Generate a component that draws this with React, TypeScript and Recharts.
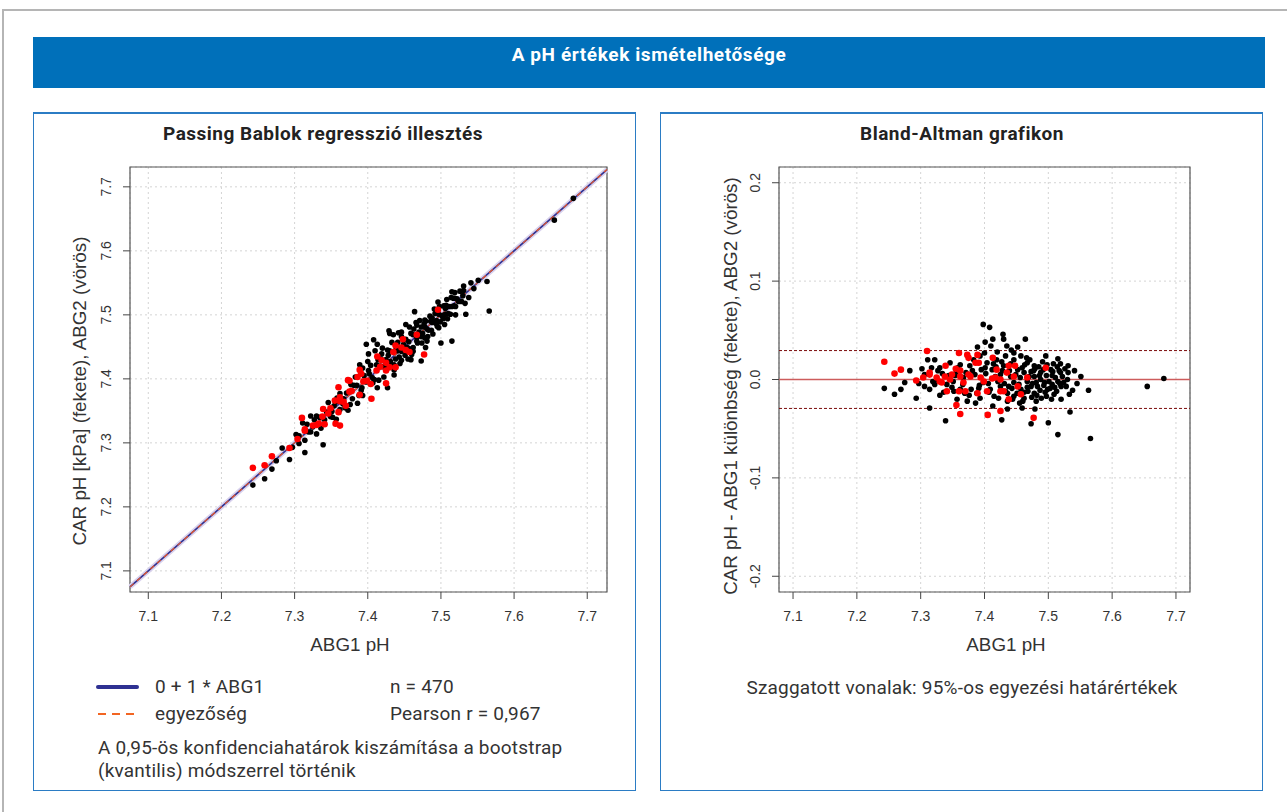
import React from "react";
import {
  ScatterChart,
  Scatter,
  XAxis,
  YAxis,
  CartesianGrid,
  ReferenceLine,
  ReferenceArea,
} from "recharts";

// ABG1 pH (x) and difference to ABG1 (CAR - ABG1 for black, ABG2 - ABG1 for red)
const blackAbg1 = [
  7.398, 7.408, 7.429, 7.401, 7.413, 7.430, 7.435, 7.464, 7.410, 7.283,
  7.275, 7.269, 7.259, 7.243, 7.293, 7.314, 7.339, 7.330, 7.357, 7.373,
  7.413, 7.427, 7.436, 7.459, 7.473, 7.479, 7.500, 7.515, 7.566, 7.534,
  7.520, 7.538, 7.563, 7.551, 7.531, 7.519, 7.515, 7.496, 7.508, 7.530,
  7.519, 7.520, 7.509, 7.497, 7.481, 7.455, 7.436, 7.446, 7.457, 7.467,
  7.478, 7.488, 7.478, 7.467, 7.483, 7.494, 7.499, 7.457, 7.446, 7.441,
  7.452, 7.462, 7.473, 7.467, 7.478, 7.462, 7.446, 7.436, 7.425, 7.430,
  7.419, 7.404, 7.393, 7.383, 7.377, 7.362, 7.356, 7.346, 7.330, 7.322,
  7.311, 7.317, 7.306, 7.306, 7.314, 7.322, 7.341, 7.351, 7.367, 7.379,
  7.388, 7.398, 7.409, 7.415, 7.393, 7.386, 7.362, 7.349, 7.325, 7.417,
  7.412, 7.425, 7.438, 7.433, 7.446, 7.531, 7.528, 7.506, 7.506, 7.515,
  7.488, 7.473, 7.655, 7.681, 7.385, 7.392, 7.401, 7.406, 7.414, 7.421,
  7.428, 7.433, 7.441, 7.444, 7.449, 7.454, 7.459, 7.462, 7.466, 7.470,
  7.474, 7.477, 7.481, 7.485, 7.487, 7.491, 7.493, 7.497, 7.503, 7.504,
  7.511, 7.513, 7.517, 7.524, 7.376, 7.371, 7.366, 7.358, 7.352, 7.344,
  7.336, 7.327, 7.319, 7.302, 7.297, 7.402, 7.407, 7.418, 7.422, 7.427,
  7.431, 7.439, 7.443, 7.448, 7.451, 7.456, 7.460, 7.463, 7.468, 7.471,
  7.475, 7.479, 7.482, 7.486, 7.489, 7.492, 7.495, 7.498, 7.501, 7.505,
  7.507, 7.510, 7.514, 7.518, 7.522, 7.526, 7.533, 7.541, 7.545, 7.395,
  7.391, 7.381, 7.369, 7.354, 7.334, 7.442, 7.452, 7.420, 7.400, 7.389,
];
const blackDiff = [
  0.056, 0.053, 0.046, 0.038, 0.041, 0.041, 0.034, 0.041, 0.034, 0.009,
  -0.003, -0.010, -0.015, -0.009, -0.019, -0.029, -0.042, -0.016, -0.020, -0.022,
  -0.027, -0.041, -0.030, -0.029, -0.045, -0.030, -0.044, -0.056, -0.060, -0.033,
  -0.020, -0.011, -0.011, 0.003, 0.014, 0.016, 0.021, 0.024, 0.016, 0.000,
  0.007, -0.007, -0.015, -0.017, -0.022, -0.024, -0.022, 0.020, 0.024, 0.017,
  0.014, 0.007, 0.003, -0.002, -0.007, -0.003, -0.010, -0.010, -0.003, 0.003,
  0.010, 0.007, 0.008, -0.008, -0.014, -0.019, -0.017, -0.014, -0.007, 0.014,
  0.020, 0.017, 0.024, 0.020, 0.014, 0.015, 0.008, 0.017, 0.012, 0.020,
  0.020, 0.012, 0.005, -0.007, -0.010, -0.005, -0.005, -0.002, 0.002, -0.010,
  -0.014, -0.003, -0.010, -0.017, -0.019, -0.024, -0.010, -0.008, 0.000, 0.003,
  0.010, 0.005, -0.007, 0.024, 0.027, 0.007, -0.007, -0.005, 0.004, -0.002,
  0.000, -0.007, -0.007, 0.001, 0.005, -0.006, 0.012, -0.004, 0.016, -0.002,
  0.009, -0.012, 0.016, -0.020, 0.005, -0.005, 0.012, -0.013, 0.022, 0.003,
  -0.018, 0.009, -0.003, 0.013, -0.011, 0.018, -0.006, 0.004, -0.009, 0.010,
  0.002, -0.012, 0.009, -0.003, -0.016, 0.007, -0.005, 0.012, -0.012, 0.004,
  -0.013, 0.009, -0.002, 0.011, -0.004, 0.006, -0.013, 0.013, -0.019, 0.018,
  -0.004, 0.009, -0.009, 0.014, -0.014, 0.002, -0.022, 0.015, -0.012, 0.020,
  -0.004, 0.011, -0.016, 0.004, -0.019, 0.010, -0.013, 0.015, -0.002, -0.020,
  0.008, -0.008, 0.013, -0.004, 0.003, 0.011, -0.015, 0.009, -0.004, 0.010,
  -0.009, 0.009, -0.014, 0.004, 0.006, 0.030, 0.033, 0.028, 0.027, 0.033,
];
const redAbg1 = [
  7.243, 7.259, 7.269, 7.293, 7.304, 7.310, 7.314, 7.325, 7.333, 7.339,
  7.341, 7.349, 7.355, 7.360, 7.362, 7.356, 7.362, 7.360, 7.370, 7.373,
  7.375, 7.378, 7.386, 7.389, 7.391, 7.389, 7.394, 7.399, 7.404, 7.405,
  7.413, 7.417, 7.419, 7.425, 7.425, 7.430, 7.438, 7.438, 7.425, 7.446,
  7.448, 7.452, 7.457, 7.467, 7.477, 7.496, 7.435, 7.412, 7.367, 7.346,
  7.338, 7.330, 7.362, 7.375, 7.314,
];
const redDiff = [
  0.018, 0.006, 0.010, -0.001, 0.002, 0.029, 0.007, 0.002, -0.003, 0.014,
  -0.012, 0.005, 0.011, 0.027, 0.003, -0.026, -0.035, -0.012, -0.012, 0.025,
  0.022, 0.003, 0.017, 0.025, 0.017, -0.014, 0.002, -0.002, -0.012, -0.036,
  0.022, 0.002, 0.010, 0.000, -0.012, -0.012, 0.014, -0.020, -0.032, 0.003,
  0.014, -0.007, -0.015, 0.002, -0.039, 0.012, 0.007, 0.001, -0.003, 0.000,
  0.003, -0.002, 0.009, 0.005, 0.005,
];

const xTicks = [7.1, 7.2, 7.3, 7.4, 7.5, 7.6, 7.7];
const pbYTicks = [7.1, 7.2, 7.3, 7.4, 7.5, 7.6, 7.7];
const baYTicks = [-0.2, -0.1, 0, 0.1, 0.2];
const pbXDomain = [7.075, 7.727];
const pbYDomain = [7.067, 7.731];
const baXDomain = [7.078, 7.722];
const baYDomain = [-0.216, 0.216];

const regIntercept = 0;
const regSlope = 1;
const meanDiff = 0;
const loaUpper = 0.0294;
const loaLower = -0.0294;
const nPairs = 470;
const pearsonR = "0,967";

const pbBlack = blackAbg1.map((x, i) => ({ x, y: x + blackDiff[i] }));
const pbRed = redAbg1.map((x, i) => ({ x, y: x + redDiff[i] }));
const baBlack = blackAbg1.map((x, i) => ({ x, y: blackDiff[i] }));
const baRed = redAbg1.map((x, i) => ({ x, y: redDiff[i] }));

const AXIS_FONT = "'Liberation Sans', Arial, sans-serif";
const COND_FONT = "Roboto, 'Noto Sans', sans-serif";

const BlackDot = (p: any) => <circle cx={p.cx} cy={p.cy} r={2.8} fill="#000" />;
const RedDot = (p: any) => <circle cx={p.cx} cy={p.cy} r={3.3} fill="#ff0000" />;

function RotTick(props: any) {
  const { x, y, payload } = props;
  return (
    <text
      x={x}
      y={y}
      transform={`rotate(-90 ${x} ${y})`}
      textAnchor="middle"
      fontSize={14}
      fill="#333"
      fontFamily={AXIS_FONT}
    >
      {Number(payload.value).toFixed(1)}
    </text>
  );
}

function RotTitle({ cx, cy, text }: { cx: number; cy: number; text: string }) {
  return (
    <div
      style={{
        position: "absolute",
        left: cx - 300,
        top: cy - 12,
        width: 600,
        height: 24,
        lineHeight: "24px",
        textAlign: "center",
        transform: "rotate(-90deg)",
        fontFamily: AXIS_FONT,
        fontSize: 18.8,
        color: "#333",
        whiteSpace: "nowrap",
      }}
    >
      {text}
    </div>
  );
}

function Txt({ x, y, children, size = 19, bold = false, center = false, w = 0, color = "#333", ls = 0.2 }: any) {
  return (
    <div
      style={{
        position: "absolute",
        left: center ? x - w / 2 : x,
        top: y - 13,
        width: center ? w : undefined,
        height: 26,
        lineHeight: "26px",
        textAlign: center ? "center" : "left",
        fontFamily: COND_FONT,
        fontSize: size,
        fontWeight: bold ? 700 : 400,
        letterSpacing: ls,
        color,
        whiteSpace: "nowrap",
      }}
    >
      {children}
    </div>
  );
}

const panelStyle: React.CSSProperties = {
  position: "absolute",
  top: 112,
  width: 603,
  height: 679,
  border: "1px solid #2b7cc4",
  borderTop: "2px solid #2b7cc4",
  boxSizing: "border-box",
};

const xTitleStyle: React.CSSProperties = {
  position: "absolute",
  top: 633,
  width: 200,
  textAlign: "center",
  fontFamily: AXIS_FONT,
  fontSize: 18.8,
  color: "#333",
  lineHeight: "24px",
};

function PassingBablok() {
  return (
    <ScatterChart
      width={604}
      height={560}
      margin={{ top: 55, right: 30, bottom: 20, left: 37 }}
    >
      <CartesianGrid stroke="#d4d4d4" strokeDasharray="2 3" />
      <XAxis
        type="number"
        dataKey="x"
        domain={pbXDomain}
        ticks={xTicks}
        allowDataOverflow
        height={60}
        axisLine={false}
        tickSize={7}
        tickMargin={12}
        tickLine={{ stroke: "#444" }}
        tickFormatter={(v: number) => v.toFixed(1)}
        tick={{ fontSize: 14, fill: "#333", fontFamily: AXIS_FONT }}
      />
      <YAxis
        type="number"
        dataKey="y"
        domain={pbYDomain}
        ticks={pbYTicks}
        allowDataOverflow
        width={60}
        axisLine={false}
        tickSize={7}
        tickMargin={12}
        tickLine={{ stroke: "#444" }}
        tick={(p: any) => <RotTick {...p} />}
      />
      <ReferenceArea
        x1={pbXDomain[0]}
        x2={pbXDomain[1]}
        y1={pbYDomain[0]}
        y2={pbYDomain[1]}
        fill="none"
        stroke="#555"
        strokeWidth={1.2}
      />
      <Scatter data={pbBlack} shape={BlackDot} isAnimationActive={false} />
      <Scatter data={pbRed} shape={RedDot} isAnimationActive={false} />
      <ReferenceLine
        segment={[
          { x: pbXDomain[0], y: regIntercept + regSlope * pbXDomain[0] },
          { x: pbXDomain[1], y: regIntercept + regSlope * pbXDomain[1] },
        ]}
        stroke="#d9d2ee"
        strokeWidth={5}
      />
      <ReferenceLine
        segment={[
          { x: pbXDomain[0], y: regIntercept + regSlope * pbXDomain[0] },
          { x: pbXDomain[1], y: regIntercept + regSlope * pbXDomain[1] },
        ]}
        stroke="#2e3192"
        strokeWidth={1.6}
      />
      <ReferenceLine
        segment={[
          { x: pbXDomain[0], y: pbXDomain[0] },
          { x: pbXDomain[1], y: pbXDomain[1] },
        ]}
        stroke="#e8562a"
        strokeWidth={1.2}
        strokeDasharray="5 4"
      />
    </ScatterChart>
  );
}

function BlandAltman() {
  return (
    <ScatterChart
      width={605}
      height={560}
      margin={{ top: 55, right: 75, bottom: 20, left: 59 }}
    >
      <CartesianGrid stroke="#d4d4d4" strokeDasharray="2 3" />
      <XAxis
        type="number"
        dataKey="x"
        domain={baXDomain}
        ticks={xTicks}
        allowDataOverflow
        height={60}
        axisLine={false}
        tickSize={7}
        tickMargin={12}
        tickLine={{ stroke: "#444" }}
        tickFormatter={(v: number) => v.toFixed(1)}
        tick={{ fontSize: 14, fill: "#333", fontFamily: AXIS_FONT }}
      />
      <YAxis
        type="number"
        dataKey="y"
        domain={baYDomain}
        ticks={baYTicks}
        allowDataOverflow
        width={60}
        axisLine={false}
        tickSize={7}
        tickMargin={12}
        tickLine={{ stroke: "#444" }}
        tick={(p: any) => <RotTick {...p} />}
      />
      <ReferenceArea
        x1={baXDomain[0]}
        x2={baXDomain[1]}
        y1={baYDomain[0]}
        y2={baYDomain[1]}
        fill="none"
        stroke="#555"
        strokeWidth={1.2}
      />
      <Scatter data={baBlack} shape={BlackDot} isAnimationActive={false} />
      <Scatter data={baRed} shape={RedDot} isAnimationActive={false} />
      <ReferenceLine y={meanDiff} stroke="#cd5c5c" strokeWidth={1.6} />
      <ReferenceLine y={loaUpper} stroke="#7a0a0a" strokeWidth={1} strokeDasharray="3 2" />
      <ReferenceLine y={loaLower} stroke="#7a0a0a" strokeWidth={1} strokeDasharray="3 2" />
    </ScatterChart>
  );
}

export default function App() {
  return (
    <div
      style={{
        position: "absolute",
        left: 0,
        top: 0,
        width: 1287,
        height: 812,
        background: "#fff",
        overflow: "hidden",
      }}
    >
      <div
        style={{
          position: "absolute",
          left: 2,
          top: 9,
          width: 1400,
          height: 900,
          borderTop: "2px solid #b5b5b5",
          borderLeft: "2px solid #b5b5b5",
        }}
      />
      <div
        style={{
          position: "absolute",
          left: 33,
          top: 37,
          width: 1232,
          height: 51,
          background: "#0070ba",
        }}
      />
      <Txt x={649} y={55} center w={600} bold size={19} ls={0.6} color="#fff">
        A pH értékek ismételhetősége
      </Txt>

      <div style={{ ...panelStyle, left: 33 }} />
      <div style={{ ...panelStyle, left: 660 }} />

      <Txt x={323} y={134} center w={560} bold size={19} ls={0.5} color="#222">
        Passing Bablok regresszió illesztés
      </Txt>
      <Txt x={962} y={134} center w={560} bold size={19} ls={0.5} color="#222">
        Bland-Altman grafikon
      </Txt>

      <div style={{ position: "absolute", left: 33, top: 112 }}>
        <PassingBablok />
      </div>
      <div style={{ position: "absolute", left: 660, top: 112 }}>
        <BlandAltman />
      </div>

      <RotTitle cx={80} cy={391} text="CAR pH [kPa] (fekete), ABG2 (vörös)" />
      <RotTitle cx={731} cy={386} text="CAR pH - ABG1 különbség (fekete), ABG2 (vörös)" />
      <div style={{ ...xTitleStyle, left: 250 }}>ABG1 pH</div>
      <div style={{ ...xTitleStyle, left: 906 }}>ABG1 pH</div>

      <svg style={{ position: "absolute", left: 96, top: 680 }} width={44} height={40}>
        <line x1={2} y1={7} x2={41} y2={7} stroke="#2e3192" strokeWidth={4} strokeLinecap="round" />
        <line x1={2} y1={34} x2={41} y2={34} stroke="#f26522" strokeWidth={2} strokeDasharray="8 6" />
      </svg>
      <Txt x={155} y={687}>0 + 1 * ABG1</Txt>
      <Txt x={155} y={714}>egyezőség</Txt>
      <Txt x={390} y={687}>n = {nPairs}</Txt>
      <Txt x={390} y={714}>Pearson r = {pearsonR}</Txt>
      <Txt x={98} y={748}>A 0,95-ös konfidenciahatárok kiszámítása a bootstrap</Txt>
      <Txt x={98} y={771}>(kvantilis) módszerrel történik</Txt>

      <Txt x={962} y={688} center w={560}>
        Szaggatott vonalak: 95%-os egyezési határértékek
      </Txt>
    </div>
  );
}
